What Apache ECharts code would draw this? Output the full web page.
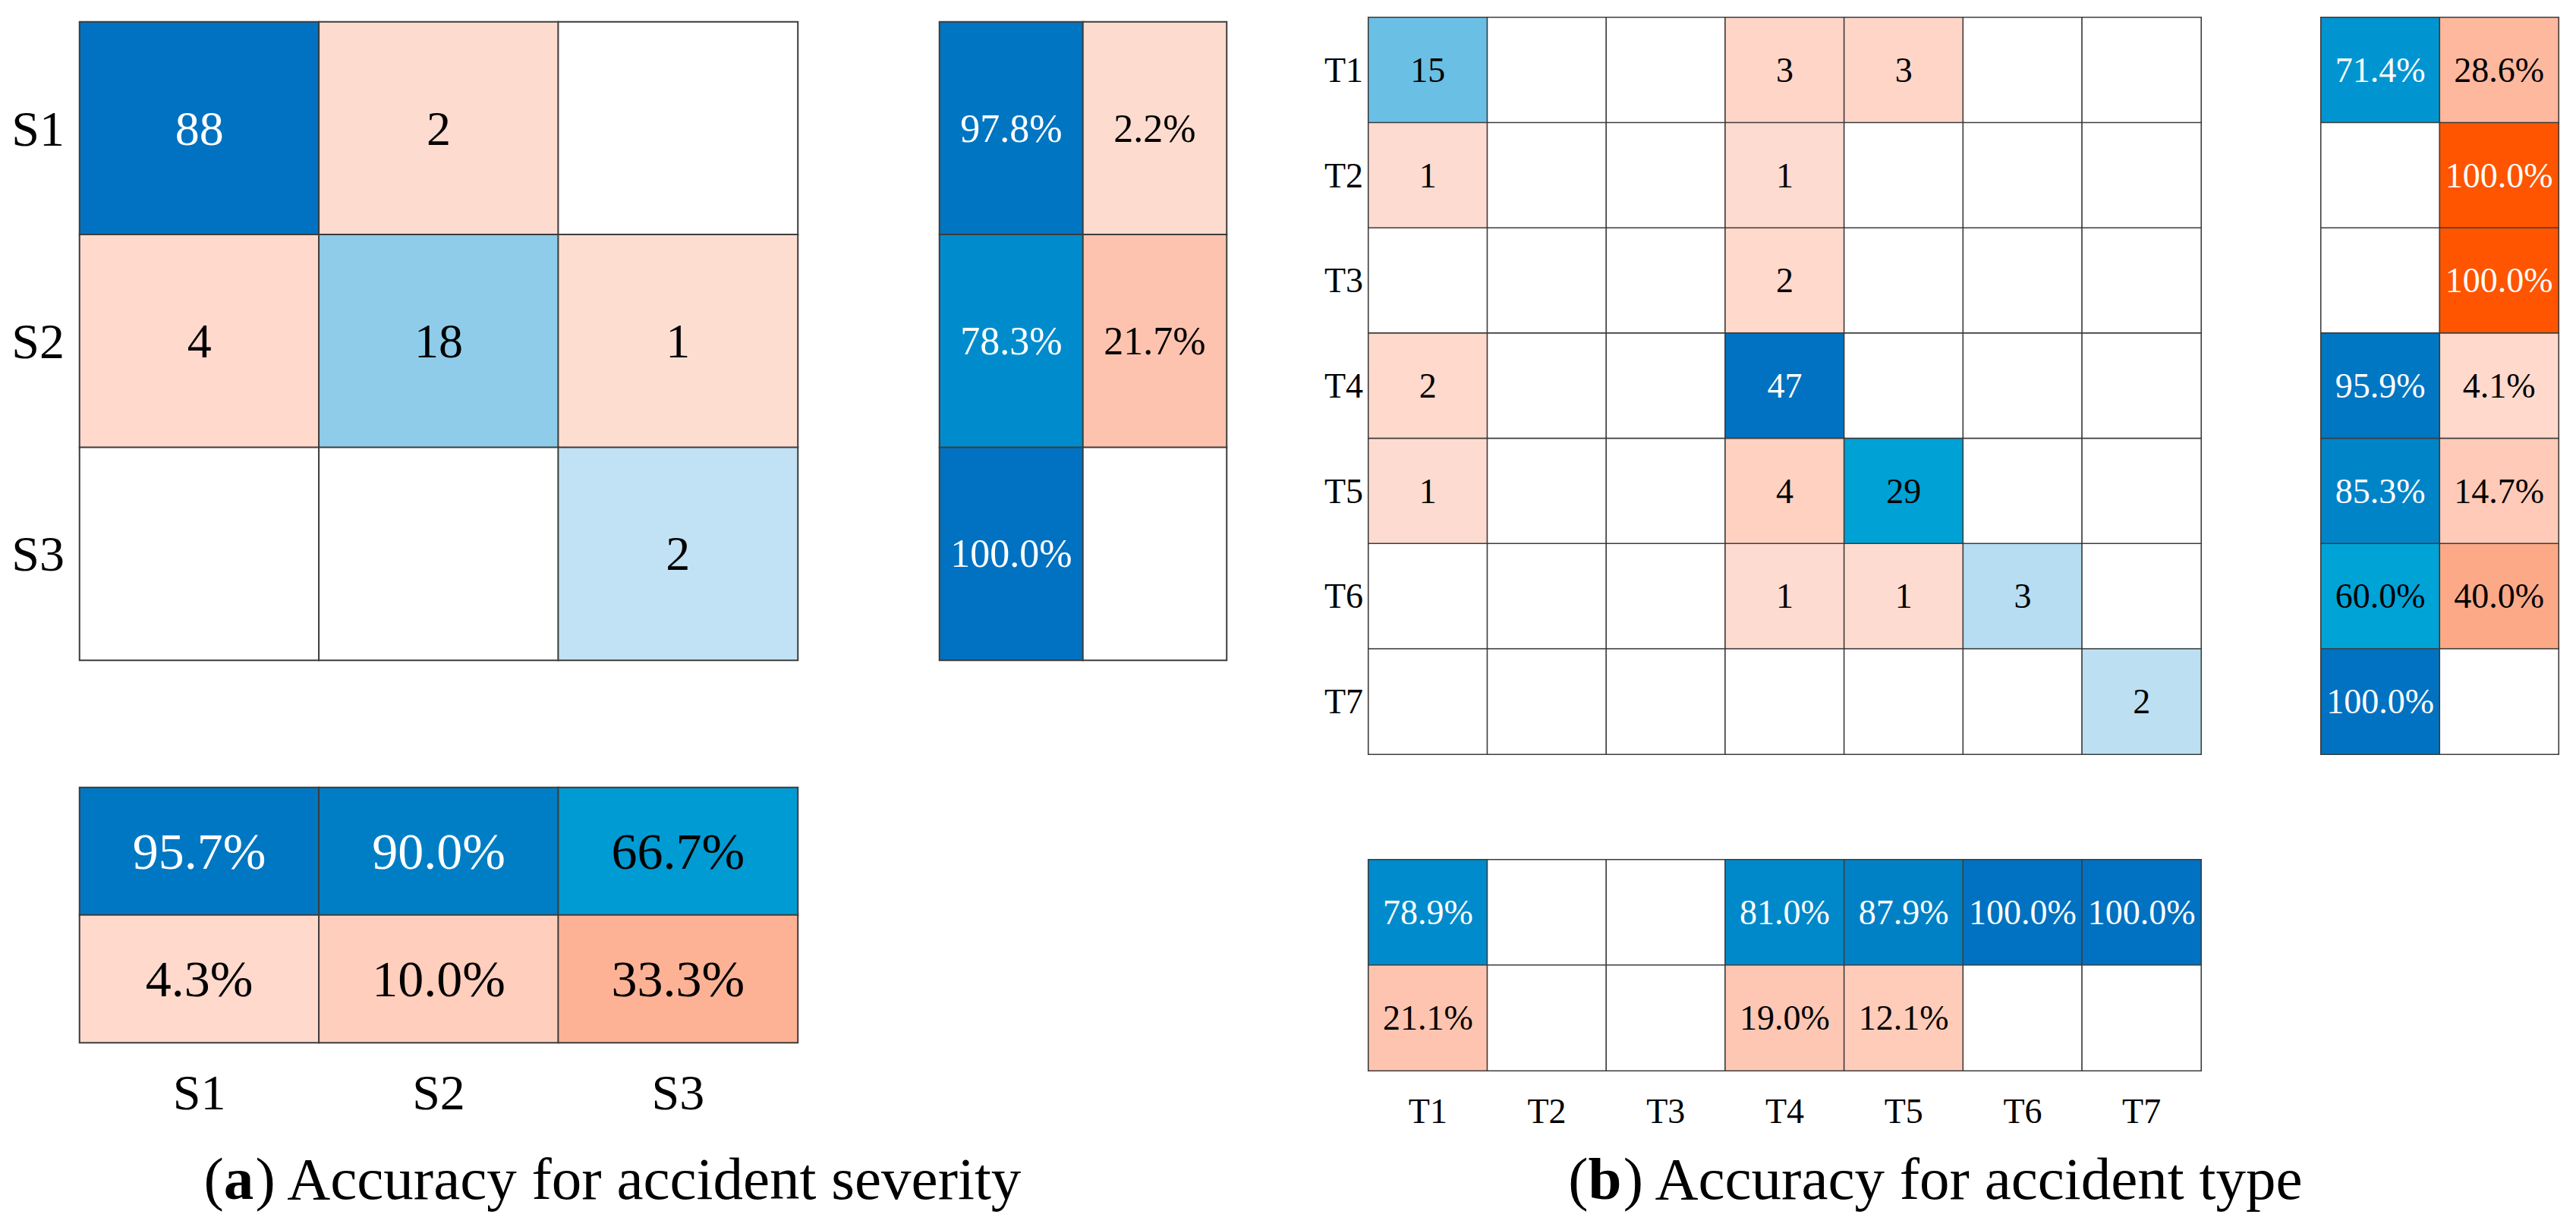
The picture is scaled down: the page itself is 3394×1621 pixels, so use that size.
<!DOCTYPE html>
<html><head><meta charset="utf-8">
<script src="https://cdn.jsdelivr.net/npm/echarts@6/dist/echarts.min.js"></script>
<style>html,body{margin:0;padding:0;background:#fff;font-family:'Liberation Serif',serif}#c{width:3394px;height:1621px}</style>
</head><body><div id="c"></div>
<script>
// ---------- data ----------
const sevCats = ['S1', 'S2', 'S3'];
const sevMatrix = [
  [88, 2, 0],
  [4, 18, 1],
  [0, 0, 2]
];
const sevRowPct = [
  [97.8, 2.2],
  [78.3, 21.7],
  [100.0, 0]
];
const sevColPct = [
  [95.7, 90.0, 66.7],
  [4.3, 10.0, 33.3]
];

const typeCats = ['T1', 'T2', 'T3', 'T4', 'T5', 'T6', 'T7'];
const typeMatrix = [
  [15, 0, 0, 3, 3, 0, 0],
  [1, 0, 0, 1, 0, 0, 0],
  [0, 0, 0, 2, 0, 0, 0],
  [2, 0, 0, 47, 0, 0, 0],
  [1, 0, 0, 4, 29, 0, 0],
  [0, 0, 0, 1, 1, 3, 0],
  [0, 0, 0, 0, 0, 0, 2]
];
const typeRowPct = [
  [71.4, 28.6],
  [0, 100.0],
  [0, 100.0],
  [95.9, 4.1],
  [85.3, 14.7],
  [60.0, 40.0],
  [100.0, 0]
];
const typeColPct = [
  [78.9, 0, 0, 81.0, 87.9, 100.0, 100.0],
  [21.1, 0, 0, 19.0, 12.1, 0, 0]
];
const summaryCats = ['correct', 'incorrect'];

const captionA = ['a', ' Accuracy for accident severity'];
const captionB = ['b', ' Accuracy for accident type'];

// ---------- colour scales ----------
const FONT = "'Liberation Serif', 'Times New Roman', serif";
const blueStops = [
  [0, [198, 228, 245]], [0.05, [186, 223, 242]], [0.2, [143, 205, 233]],
  [0.32, [106, 191, 228]], [0.6, [0, 163, 214]], [0.7, [0, 151, 210]],
  [0.8, [0, 138, 203]], [0.9, [0, 126, 197]], [1, [0, 114, 193]]
];
const redStops = [
  [0, [254, 222, 211]], [0.05, [255, 216, 203]], [0.1, [255, 206, 188]],
  [0.2, [254, 198, 178]], [0.3, [253, 182, 155]], [0.4, [252, 169, 136]],
  [1, [255, 85, 0]]
];
function interp(stops, f) {
  f = Math.max(0, Math.min(1, f));
  for (let i = 1; i < stops.length; i++) {
    if (f <= stops[i][0]) {
      const a = stops[i - 1], b = stops[i];
      const t = (f - a[0]) / (b[0] - a[0]);
      const c = a[1].map((v, k) => Math.round(v + (b[1][k] - v) * t));
      return 'rgb(' + c.join(',') + ')';
    }
  }
  const l = stops[stops.length - 1][1];
  return 'rgb(' + l.join(',') + ')';
}
function item(x, y, v, isBlue, f, txt, fs) {
  if (!v) return { value: [x, y, v], txt: '', itemStyle: { color: '#ffffff' } };
  const color = interp(isBlue ? blueStops : redStops, f);
  return {
    value: [x, y, v], txt: txt,
    itemStyle: { color: color },
    label: { color: f >= 0.7 ? '#ffffff' : '#000000', fontFamily: FONT, fontSize: fs }
  };
}
function mainData(m, fs) {
  const mx = Math.max(...m.flat());
  const out = [];
  m.forEach((row, r) => row.forEach((v, c) => out.push(item(c, r, v, r === c, v / mx, String(v), fs))));
  return out;
}
function rowData(p, fs) {
  const out = [];
  p.forEach((row, r) => row.forEach((v, c) => out.push(item(c, r, v, c === 0, v / 100, v.toFixed(1) + '%', fs))));
  return out;
}
function colData(p, fs) {
  const out = [];
  p.forEach((row, r) => row.forEach((v, c) => out.push(item(c, r, v, r === 0, v / 100, v.toFixed(1) + '%', fs))));
  return out;
}

// ---------- layout ----------
const grids = [
  { left: 105, top: 29, width: 946, height: 841 },     // a main
  { left: 1238, top: 29, width: 378, height: 841 },    // a row summary
  { left: 105, top: 1038, width: 946, height: 336 },   // a col summary
  { left: 1803, top: 23, width: 1097, height: 971 },   // b main
  { left: 3058, top: 23, width: 313, height: 971 },    // b row summary
  { left: 1803, top: 1133, width: 1097, height: 278 }  // b col summary
];
const hide = { axisLine: { show: false }, axisTick: { show: false }, splitLine: { show: false } };
function xAx(g, cats, lbl) {
  return Object.assign({ type: 'category', gridIndex: g, data: cats, position: 'bottom',
    axisLabel: lbl ? Object.assign({ show: true, color: '#000', fontFamily: FONT }, lbl) : { show: false } }, hide);
}
function yAx(g, cats, lbl) {
  return Object.assign({ type: 'category', gridIndex: g, data: cats, inverse: true,
    axisLabel: lbl ? Object.assign({ show: true, color: '#000', fontFamily: FONT }, lbl) : { show: false } }, hide);
}
function hm(i, data, fs, bw) {
  return {
    type: 'heatmap', xAxisIndex: i, yAxisIndex: i, data: data,
    itemStyle: { borderColor: '#3c3c3c', borderWidth: bw },
    label: { show: true, fontFamily: FONT, fontSize: fs, formatter: p => p.data.txt },
    emphasis: { disabled: true }, silent: true, animation: false
  };
}
function caption(x, parts) {
  return {
    type: 'text', x: x, y: 1553,
    style: {
      text: '{n|(}{b|' + parts[0] + '}{n|)' + parts[1] + '}',
      rich: {
        n: { fontSize: 79, fontFamily: FONT, fill: '#000', color: '#000' },
        b: { fontSize: 79, fontFamily: FONT, fontWeight: 'bold', fill: '#000', color: '#000' }
      },
      align: 'center', verticalAlign: 'middle', textAlign: 'center', textVerticalAlign: 'middle'
    }
  };
}

const option = {
  backgroundColor: '#ffffff',
  animation: false,
  textStyle: { fontFamily: FONT },
  grid: grids,
  xAxis: [
    xAx(0, sevCats), xAx(1, summaryCats),
    xAx(2, sevCats, { fontSize: 66, margin: 32 }),
    xAx(3, typeCats), xAx(4, summaryCats),
    xAx(5, typeCats, { fontSize: 46, margin: 30 })
  ],
  yAxis: [
    yAx(0, sevCats, { fontSize: 66, margin: 20 }), yAx(1, sevCats), yAx(2, summaryCats),
    yAx(3, typeCats, { fontSize: 46, margin: 7 }), yAx(4, typeCats), yAx(5, summaryCats)
  ],
  series: [
    hm(0, mainData(sevMatrix, 64), 64, 2),
    hm(1, rowData(sevRowPct, 52), 52, 2),
    hm(2, colData(sevColPct, 68), 68, 2),
    hm(3, mainData(typeMatrix, 46), 46, 1.6),
    hm(4, rowData(typeRowPct, 46), 46, 1.6),
    hm(5, colData(typeColPct, 46), 46, 1.6)
  ],
  graphic: [caption(808, captionA), caption(2551, captionB)]
};
const chart = echarts.init(document.getElementById('c'), null, { renderer: 'svg', width: 3394, height: 1621 });
chart.setOption(option);
</script>
</body></html>
